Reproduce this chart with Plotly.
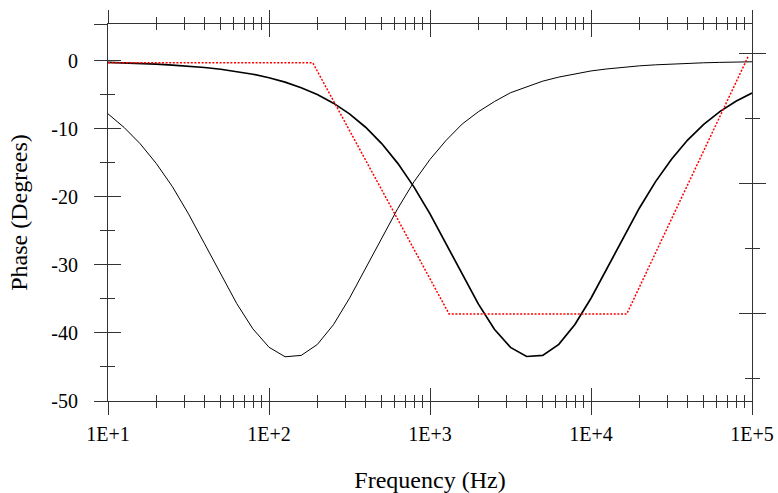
import plotly.graph_objects as go

# Frequency samples (Hz), 10 per decade
freq = [10, 12.59, 15.85, 19.95, 25.12, 31.62, 39.81, 50.12, 63.10, 79.43,
        100, 125.9, 158.5, 199.5, 251.2, 316.2, 398.1, 501.2, 631.0, 794.3,
        1000, 1259, 1585, 1995, 2512, 3162, 3981, 5012, 6310, 7943,
        10000, 12589, 15849, 19953, 25119, 31623, 39811, 50119, 63096, 79433, 100000]

# Thin black curve (low-frequency stage phase, degrees)
phase_low = [-7.8, -9.8, -12.2, -15.1, -18.5, -22.5, -26.9, -31.4, -35.7, -39.4,
             -42.1, -43.5, -43.3, -41.7, -38.8, -34.9, -30.5, -26.0, -21.7, -17.8,
             -14.5, -11.7, -9.3, -7.5, -6.0, -4.7, -3.8, -3.0, -2.4, -1.9,
             -1.5, -1.2, -0.95, -0.75, -0.60, -0.48, -0.38, -0.30, -0.24, -0.19, -0.15]

# Thick black curve (high-frequency stage phase, degrees)
phase_high = [-0.25, -0.31, -0.40, -0.50, -0.63, -0.79, -0.99, -1.25, -1.58, -1.98,
              -2.50, -3.14, -3.96, -4.96, -6.23, -7.81, -9.77, -12.17, -15.08, -18.53,
              -22.5, -26.87, -31.4, -35.73, -39.45, -42.12, -43.46, -43.3, -41.68, -38.76,
              -34.9, -30.5, -25.98, -21.67, -17.8, -14.46, -11.65, -9.34, -7.47, -5.95, -4.74]

# Red dotted asymptotic approximation
asym_freq = [10, 187, 1313, 16680, 95000]
asym_phase = [-0.3, -0.3, -37.2, -37.2, 0.7]

x_tickvals = [10, 100, 1000, 10000, 100000]
x_ticktext = ["1E+1", "1E+2", "1E+3", "1E+4", "1E+5"]
y_tickvals = [-50, -40, -30, -20, -10, 0, 5.4]
y_ticktext = ["-50", "-40", "-30", "-20", "-10", "0", ""]
y_minor = [-45, -35, -25, -15, -5]
y2_range = [-26.7, 2.3]

FONT = "Liberation Serif"
AX = "#333333"
x_minor = [m * 10 ** e for e in range(1, 5) for m in range(2, 10)]

fig = go.Figure()
# empty traces so every overlay axis gets drawn
for xa, ya in [("x2", "y"), ("x", "y3"), ("x", "y2"), ("x", "y4")]:
    fig.add_trace(go.Scatter(x=[None], y=[None], xaxis=xa, yaxis=ya, mode="lines",
                             showlegend=False, hoverinfo="skip"))
fig.add_trace(go.Scatter(x=freq, y=phase_low, mode="lines",
                         line=dict(color="black", width=1), showlegend=False))
fig.add_trace(go.Scatter(x=freq, y=phase_high, mode="lines",
                         line=dict(color="black", width=1.7), showlegend=False))
fig.add_trace(go.Scatter(x=asym_freq, y=asym_phase, mode="lines",
                         line=dict(color="red", width=1.5, dash="2px,1.6px"),
                         showlegend=False))

def xax(ticks, **kw):
    d = dict(type="log", range=[1, 5], tickmode="array", tickvals=x_tickvals,
             ticks=ticks, ticklen=13, tickwidth=1, tickcolor=AX, mirror="ticks",
             showgrid=False, zeroline=False, automargin=False,
             minor=dict(tickmode="array", tickvals=x_minor, ticks=ticks,
                        ticklen=6, tickwidth=1, tickcolor=AX, showgrid=False))
    d.update(kw)
    return d

def yax(ticks, **kw):
    d = dict(range=[-50, 5.4], tickmode="array", tickvals=y_tickvals,
             ticks=ticks, ticklen=13, tickwidth=1, tickcolor=AX,
             showgrid=False, zeroline=False, automargin=False,
             minor=dict(tickmode="array", tickvals=y_minor, ticks=ticks,
                        ticklen=7, tickwidth=1, tickcolor=AX, showgrid=False))
    d.update(kw)
    return d

def y2ax(ticks, **kw):
    d = dict(range=y2_range, dtick=10, tick0=0, side="right", overlaying="y",
             ticks=ticks, ticklen=13, tickwidth=1, tickcolor=AX, automargin=False,
             showticklabels=False, showgrid=False, zeroline=False,
             minor=dict(dtick=5, tick0=0, ticks=ticks, ticklen=7, tickwidth=1,
                        tickcolor=AX, showgrid=False))
    d.update(kw)
    return d

fig.update_layout(
    width=778, height=493,
    margin=dict(l=108, r=26, t=24, b=92),
    paper_bgcolor="white", plot_bgcolor="white",
    font=dict(family=FONT, size=20, color="black"),
    xaxis=xax("outside", ticktext=x_ticktext, showline=True, linecolor=AX,
              linewidth=1, tickfont=dict(family=FONT, size=20), ticklabelstandoff=2,
              title=dict(text="Frequency (Hz)", font=dict(family=FONT, size=24),
                         standoff=28)),
    xaxis2=xax("inside", overlaying="x", side="bottom", showticklabels=False,
               showline=False),
    yaxis=yax("outside", ticktext=y_ticktext, showline=True, linecolor=AX,
              linewidth=1, tickfont=dict(family=FONT, size=20), ticklabelstandoff=12,
              title=dict(text="Phase (Degrees)", font=dict(family=FONT, size=24),
                         standoff=16)),
    yaxis3=yax("inside", overlaying="y", side="left", showticklabels=False,
               showline=False),
    yaxis2=y2ax("outside", showline=True, linecolor=AX, linewidth=1),
    yaxis4=y2ax("inside", showline=False),
)

fig.write_html("out.html", config={"displayModeBar": False},
               post_script="document.body.style.margin='0';")
